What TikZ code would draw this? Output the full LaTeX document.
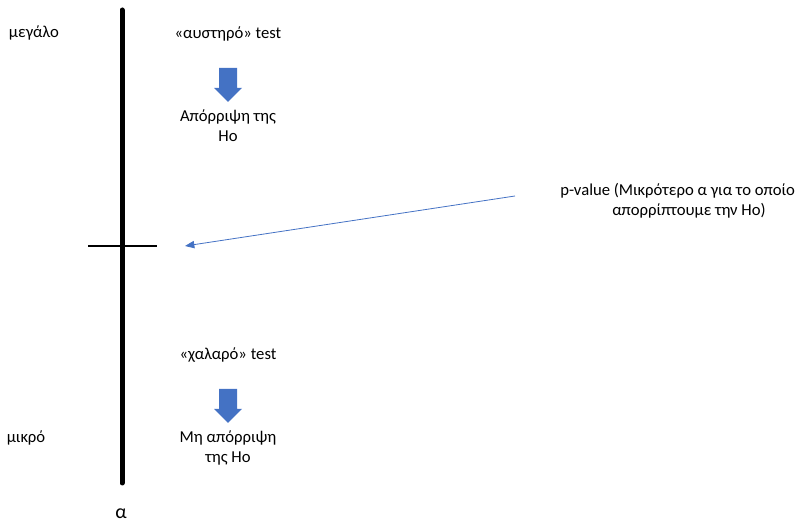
\documentclass[tikz,border=0pt]{standalone}
\usepackage{fontspec}
\setmainfont{Carlito}
\usetikzlibrary{arrows.meta, positioning}
\definecolor{officeblue}{RGB}{68,114,196}

\begin{document}
\begin{tikzpicture}[
  x=0.75pt, y=-0.75pt,
  lbl/.style={font=\fontsize{12.5}{15}\selectfont, align=center, inner sep=0pt},
  axis/.style={line width=3.75pt, line cap=round},
  tickmark/.style={line width=1.1pt},
  arr/.style={-{Triangle[length=7pt, width=5.5pt]}, officeblue, line width=0.6pt},
  blockarrow/.pic={\fill[officeblue] (-9,0) -- (9,0) -- (9,20) -- (14,20)
                   -- (0,34) -- (-14,20) -- (-9,20) -- cycle;}
]
\useasboundingbox (0,0) rectangle (797,523);

% Axis of alpha
\coordinate (top) at (122,10);
\coordinate (bot) at (122,483);
\draw[axis] (top) -- (bot);
\coordinate (tl) at (88,246);
\coordinate (tr) at (157,246);
\draw[tickmark] (tl) -- (tr);

% Axis labels
\node[lbl] (big) at (34,33) {μεγάλο};
\node[lbl] (small) at (26,438) {μικρό};
\node[lbl, font=\fontsize{15}{18}\selectfont] (alpha) at (121,514) {α};

% Strict test (top)
\node[lbl] (strict) at (228,34) {«αυστηρό» test};
\pic at (228,68) {blockarrow};
\node[lbl] (reject) at (228,126) {Απόρριψη της\\Ho};

% Loose test (bottom)
\node[lbl] (loose) at (228,355) {«χαλαρό» test};
\pic at (228,389) {blockarrow};
\node[lbl] (accept) at (228,448) {Μη απόρριψη\\της Ho};

% p-value
\node[lbl, align=left, anchor=west] (pval) at (560,201)
  {p-value (Μικρότερο α για το οποίο\\\hspace*{39pt}απορρίπτουμε την Ho)};
\coordinate (pstart) at (515,196);
\coordinate (pend) at (185,246);
\draw[arr] (pstart) -- (pend);

\end{tikzpicture}
\end{document}
